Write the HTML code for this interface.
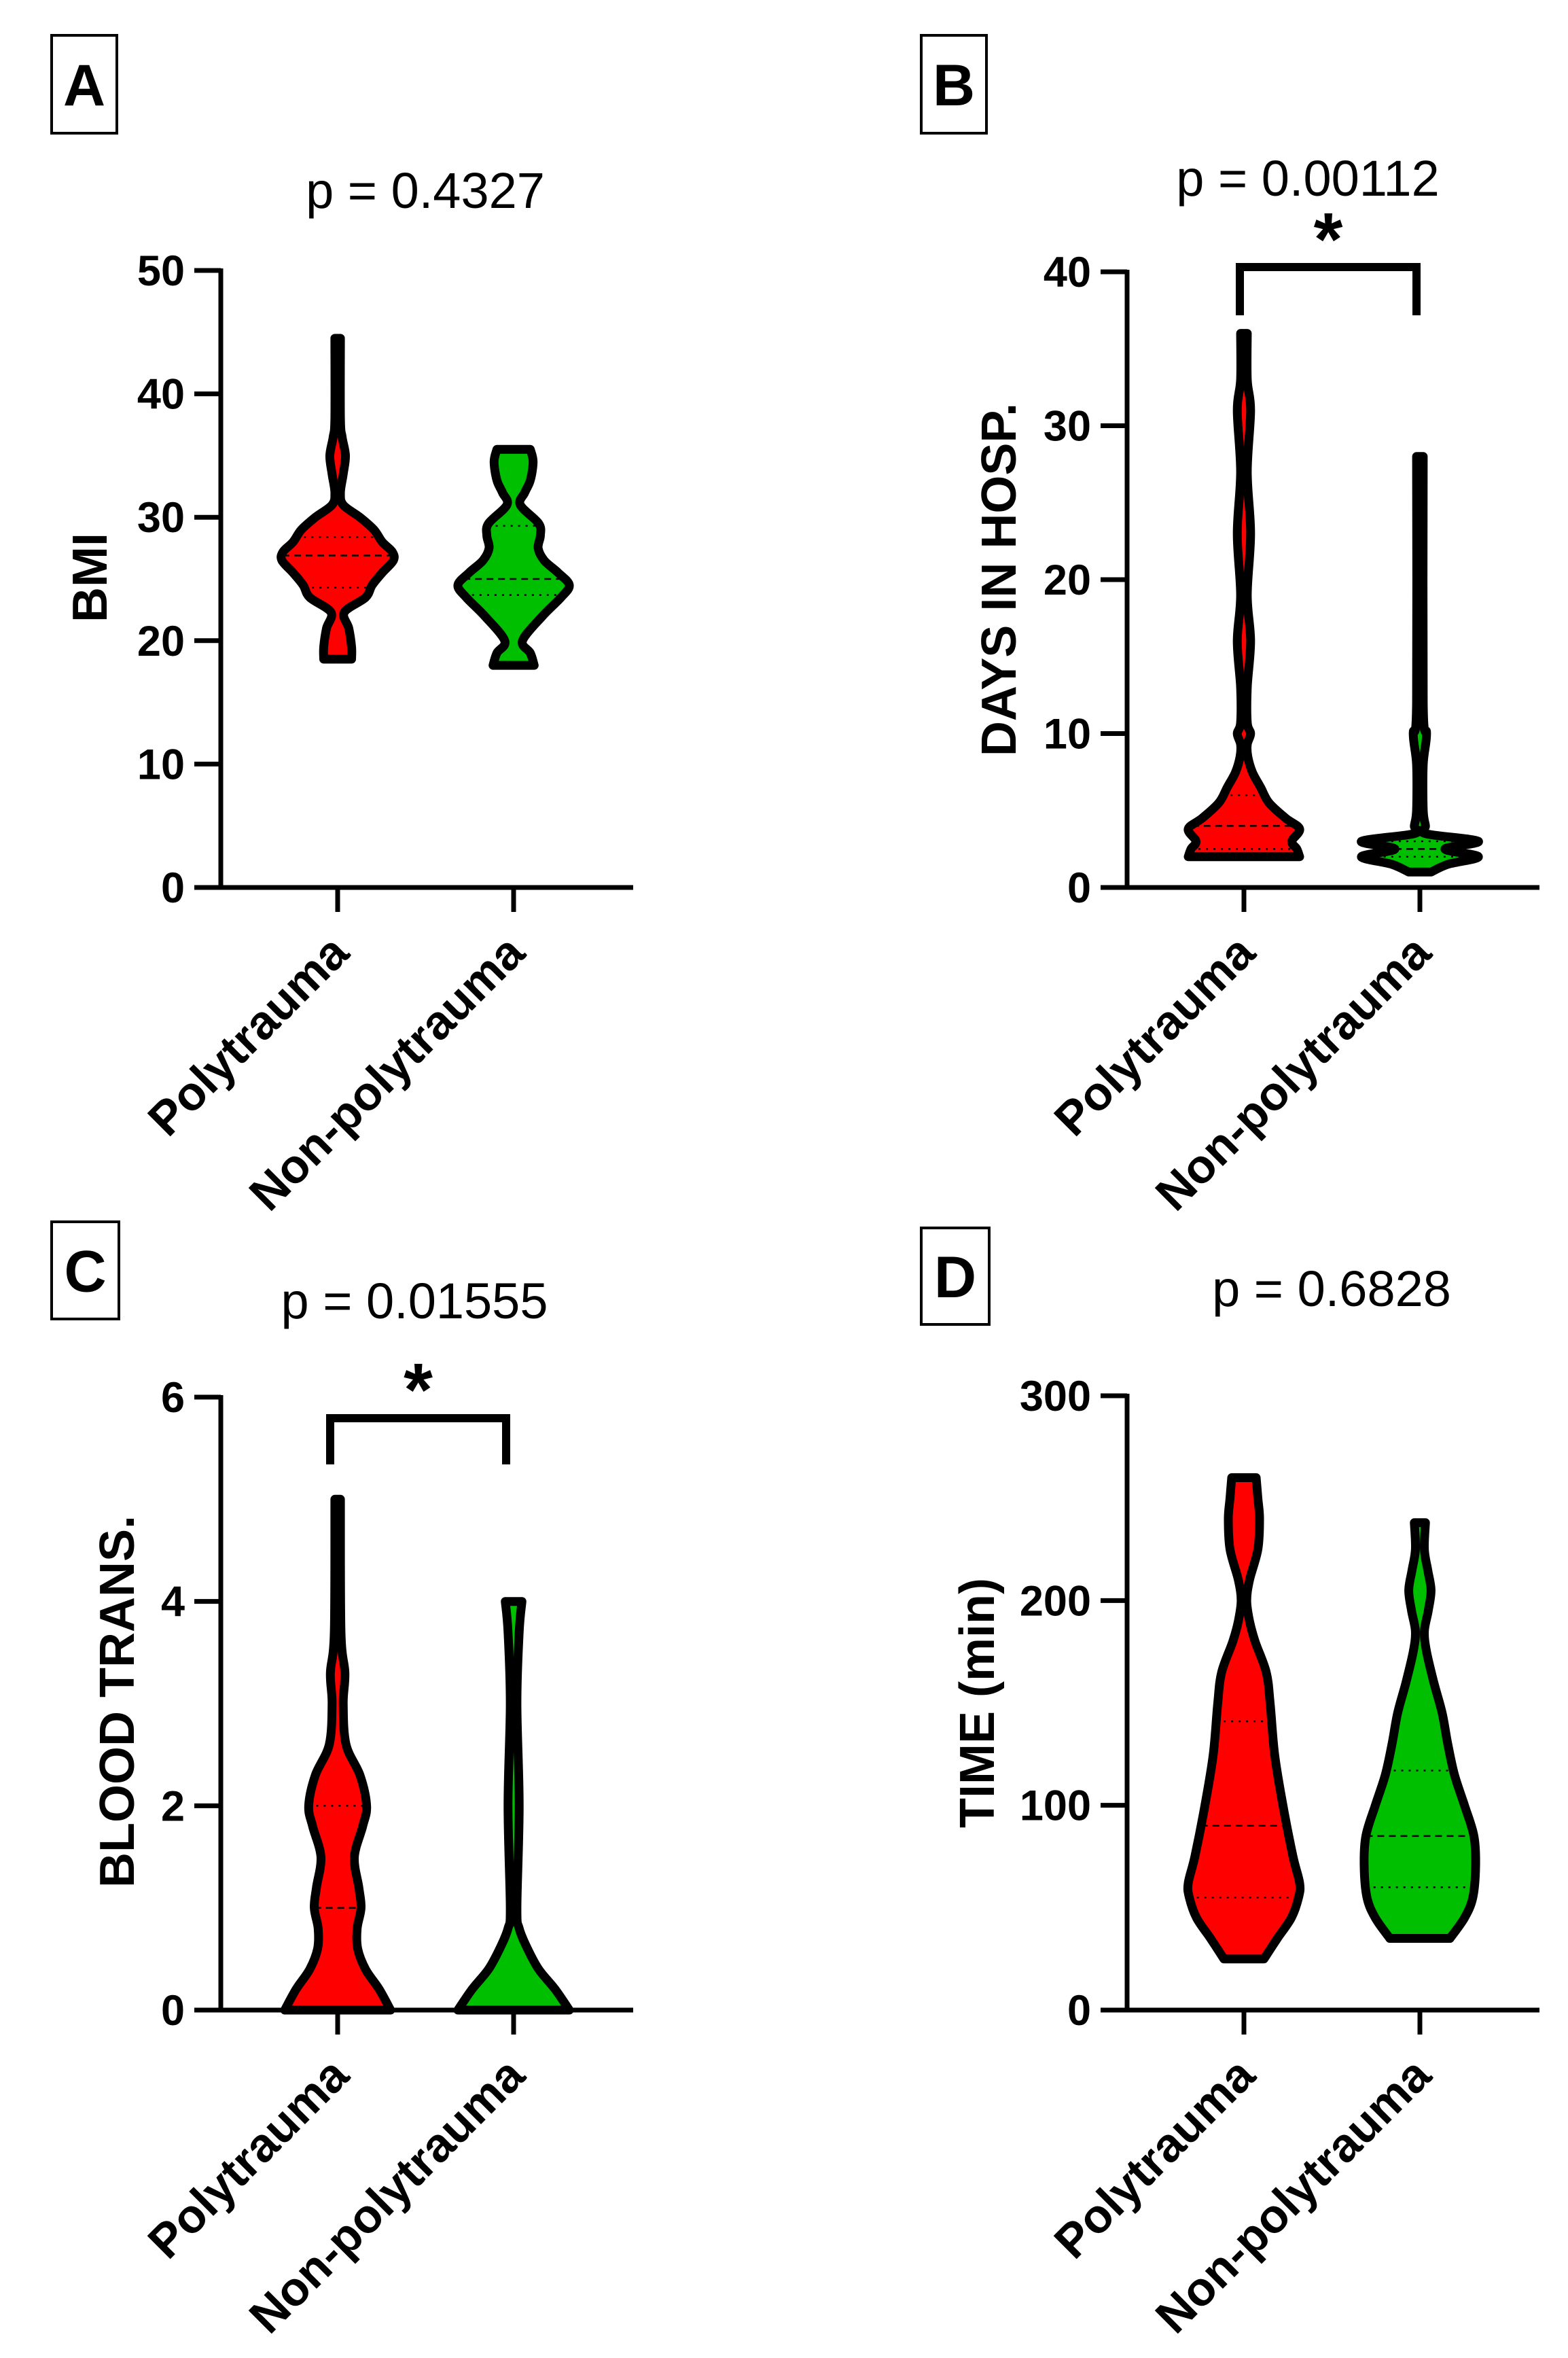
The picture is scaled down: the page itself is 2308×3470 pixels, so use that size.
<!DOCTYPE html>
<html><head><meta charset="utf-8"><style>
html,body{margin:0;padding:0;background:#fff;}
svg{display:block;font-family:"Liberation Sans",Arial,sans-serif;}
</style></head><body>
<svg id="fig" width="2308" height="3470" viewBox="0 0 2308 3470" xmlns="http://www.w3.org/2000/svg"></svg>
<script>
const categories = ["Polytrauma", "Non-polytrauma"];
const pValues = ["p = 0.4327", "p = 0.00112", "p = 0.01555", "p = 0.6828"];
const yTitles = ["BMI", "DAYS IN HOSP.", "BLOOD TRANS.", "TIME (min)"];
const ticksA = [0, 10, 20, 30, 40, 50];
const ticksB = [0, 10, 20, 30, 40];
const ticksC = [0, 2, 4, 6];
const ticksD = [0, 100, 200, 300];

const bmiPolyLevels = [18.5, 19.5, 21, 22.3, 23.5, 24.5, 25.5, 26.5, 27.2, 28, 29, 30, 31, 32, 33.5, 35, 36.5, 38, 44.5];
const bmiPolyWidths = [0.25, 0.25, 0.2, 0.12, 0.5, 0.62, 0.8, 1.0, 0.98, 0.8, 0.65, 0.4, 0.1, 0.05, 0.1, 0.14, 0.08, 0.05, 0.05];
const bmiPolyQuart = [24.3, 26.9, 28.4];
const bmiNonLevels = [18, 19, 20, 22, 23.5, 24.5, 25.5, 26.5, 27.5, 28.5, 29.5, 31, 32, 33, 34.5, 35.5];
const bmiNonWidths = [0.37, 0.3, 0.16, 0.52, 0.85, 1.0, 0.8, 0.55, 0.44, 0.48, 0.45, 0.12, 0.2, 0.3, 0.35, 0.3];
const bmiNonQuart = [23.7, 25, 29.3];

const daysPolyLevels = [2, 2.5, 3, 3.8, 4.5, 5.5, 6.5, 7.5, 8.5, 9.3, 10, 10.7, 13, 16, 19, 23, 27, 31, 33, 36];
const daysPolyWidths = [1.0, 0.95, 0.86, 1.0, 0.75, 0.45, 0.3, 0.15, 0.07, 0.06, 0.12, 0.06, 0.06, 0.12, 0.06, 0.12, 0.06, 0.12, 0.06, 0.06];
const daysPolyQuart = [2.5, 4, 6];
const daysNonLevels = [1, 1.5, 2, 2.5, 3, 3.5, 4, 5, 8, 10, 12, 28];
const daysNonWidths = [0.2, 0.5, 1.05, 0.45, 1.05, 0.1, 0.1, 0.06, 0.06, 0.12, 0.06, 0.06];
const daysNonQuart = [2, 2.5, 3];

const bloodPolyLevels = [0, 0.2, 0.4, 0.6, 0.8, 1.0, 1.2, 1.5, 1.8, 2.0, 2.3, 2.6, 3.0, 3.3, 3.7, 5];
const bloodPolyWidths = [0.95, 0.75, 0.5, 0.36, 0.35, 0.42, 0.38, 0.3, 0.45, 0.52, 0.4, 0.15, 0.1, 0.13, 0.06, 0.05];
const bloodPolyQuart = [0, 1, 2];
const bloodNonLevels = [0, 0.2, 0.4, 0.6, 0.8, 1.0, 2, 3, 3.7, 4];
const bloodNonWidths = [1.0, 0.75, 0.45, 0.25, 0.1, 0.06, 0.1, 0.06, 0.1, 0.15];
const bloodNonQuart = [0, 0, 0];

const timePolyLevels = [25, 35, 45, 55, 62, 75, 100, 125, 150, 165, 180, 190, 200, 210, 225, 240, 250, 260];
const timePolyWidths = [0.36, 0.6, 0.85, 0.98, 1.0, 0.88, 0.7, 0.55, 0.47, 0.4, 0.2, 0.1, 0.05, 0.1, 0.25, 0.28, 0.25, 0.22];
const timePolyQuart = [55, 90, 141];
const timeNonLevels = [35, 45, 55, 70, 85, 100, 115, 130, 145, 160, 175, 185, 195, 205, 215, 225, 238];
const timeNonWidths = [0.54, 0.8, 0.95, 1.0, 0.97, 0.8, 0.62, 0.5, 0.4, 0.25, 0.12, 0.08, 0.15, 0.2, 0.14, 0.08, 0.1];
const timeNonQuart = [60, 85, 117];

const NS = "http://www.w3.org/2000/svg";
const svg = document.getElementById("fig");
function mk(tag, attrs, parent) {
  const e = document.createElementNS(NS, tag);
  for (const k in attrs) e.setAttribute(k, attrs[k]);
  (parent || svg).appendChild(e);
  return e;
}
function interp(levels, widths, v) {
  if (v <= levels[0]) return widths[0];
  for (let i = 1; i < levels.length; i++) {
    if (v <= levels[i]) {
      const t = (v - levels[i-1]) / (levels[i] - levels[i-1]);
      return widths[i-1] + t * (widths[i] - widths[i-1]);
    }
  }
  return widths[widths.length-1];
}
function smooth(pts) {
  let d = "";
  for (let i = 0; i < pts.length - 1; i++) {
    const p0 = pts[Math.max(i-1,0)], p1 = pts[i], p2 = pts[i+1], p3 = pts[Math.min(i+2, pts.length-1)];
    const c1 = [p1[0] + (p2[0]-p0[0])/6, p1[1] + (p2[1]-p0[1])/6];
    const c2 = [p2[0] - (p3[0]-p1[0])/6, p2[1] - (p3[1]-p1[1])/6];
    d += " C" + c1[0].toFixed(1) + "," + c1[1].toFixed(1) + " " + c2[0].toFixed(1) + "," + c2[1].toFixed(1) + " " + p2[0].toFixed(1) + "," + p2[1].toFixed(1);
  }
  return d;
}

function panel(cfg) {
  const g = mk("g", {});
  
  
  const yMax = cfg.ticks[cfg.ticks.length-1];
  const yScale = v => cfg.y0 - (v / yMax) * (cfg.y0 - cfg.yTop);
  const catX = [cfg.ax + 172, cfg.ax + 431];
  const maxHalf = 82;

  const box = mk("rect", {x: cfg.box[0], y: cfg.box[1], width: cfg.box[2], height: cfg.box[3], fill: "none", stroke: "#000", "stroke-width": 4}, g);
  
  
  const lt = mk("text", {x: cfg.box[0] + cfg.box[2]/2, y: cfg.box[1] + cfg.box[3]/2 + 31, "text-anchor": "middle", "font-size": 86, "font-weight": "bold"}, g);
  lt.textContent = cfg.letter;
  
  

  const pt = mk("text", {x: cfg.pPos[0], y: cfg.pPos[1], "text-anchor": "middle", "font-size": 74}, g);
  pt.textContent = cfg.p;
  
  

  const yt = mk("text", {x: 0, y: 0, "text-anchor": "middle", "font-size": 72, "font-weight": "bold", transform: "translate(" + (cfg.titleX + 26) + "," + cfg.titleY + ") rotate(-90)"}, g);
  yt.textContent = cfg.title;
  
  

  const series = [
    {levels: cfg.polyL, widths: cfg.polyW, quart: cfg.polyQ, fill: "#ff0000", name: "violin-polytrauma"},
    {levels: cfg.nonL, widths: cfg.nonW, quart: cfg.nonQ, fill: "#00bf00", name: "violin-non-polytrauma"}
  ];
  series.forEach((s, si) => {
    const cx = catX[si];
    const right = s.levels.map((v, i) => [cx + s.widths[i]*maxHalf, yScale(v)]);
    const left = s.levels.map((v, i) => [cx - s.widths[i]*maxHalf, yScale(v)]).reverse();
    let d = "M" + left[left.length-1][0].toFixed(1) + "," + left[left.length-1][1].toFixed(1);
    d += " L" + right[0][0].toFixed(1) + "," + right[0][1].toFixed(1);
    d += smooth(right);
    d += " L" + left[0][0].toFixed(1) + "," + left[0][1].toFixed(1);
    d += smooth(left) + " Z";
    const fillP = mk("path", {d: d, fill: s.fill, stroke: "none"}, g);
    
    
    s.quart.forEach((q, qi) => {
      if (q <= s.levels[0]) return;
      const w = interp(s.levels, s.widths, q) * maxHalf;
      const ln = mk("line", {x1: cx - w, x2: cx + w, y1: yScale(q), y2: yScale(q), stroke: "#000", "stroke-width": 2.5, "stroke-dasharray": qi === 1 ? "10 7" : "3 8"}, g);
      
      
    });
    const outP = mk("path", {d: d, fill: "none", stroke: "#000", "stroke-width": 13, "stroke-linejoin": "round"}, g);
    
    
  });

  const yAxis = mk("line", {x1: cfg.ax, x2: cfg.ax, y1: cfg.yTop - 3, y2: cfg.y0 + 3, stroke: "#000", "stroke-width": 7}, g);
  
  
  const xAxis = mk("line", {x1: cfg.ax - 39, x2: cfg.ax + 607, y1: cfg.y0, y2: cfg.y0, stroke: "#000", "stroke-width": 7}, g);
  
  
  cfg.ticks.forEach(t => {
    const y = yScale(t);
    const tk = mk("line", {x1: cfg.ax - 39, x2: cfg.ax, y1: y, y2: y, stroke: "#000", "stroke-width": 7}, g);
    
    
    const tl = mk("text", {x: cfg.ax - 53, y: y + 22, "text-anchor": "end", "font-size": 63, "font-weight": "bold"}, g);
    tl.textContent = String(t);
    
    
  });
  catX.forEach((x, i) => {
    const tk = mk("line", {x1: x, x2: x, y1: cfg.y0, y2: cfg.y0 + 36, stroke: "#000", "stroke-width": 7}, g);
    
    
    const cl = mk("text", {x: 0, y: 0, "text-anchor": "end", "font-size": 70, "font-weight": "bold", transform: "translate(" + (x + 20) + "," + (cfg.y0 + 100) + ") rotate(-45)"}, g);
    cl.textContent = categories[i];
    
    
  });

  if (cfg.bracket) {
    const b = cfg.bracket;
    const br = mk("path", {d: "M" + b[0] + "," + b[3] + " L" + b[0] + "," + b[2] + " L" + b[1] + "," + b[2] + " L" + b[1] + "," + b[3], fill: "none", stroke: "#000", "stroke-width": 12}, g);
    
    
    const st = mk("text", {x: (b[0] + b[1]) / 2, y: b[4], "text-anchor": "middle", "font-size": 110, "font-weight": "bold"}, g);
    st.textContent = "*";
    
    
  }
}

panel({name: "panel-a-bmi", letter: "A", p: pValues[0], title: yTitles[0], ticks: ticksA,
  ax: 325, y0: 1306, yTop: 398, box: [76, 52, 96, 144], pPos: [626, 306], titleX: 131, titleY: 850,
  polyL: bmiPolyLevels, polyW: bmiPolyWidths, polyQ: bmiPolyQuart, nonL: bmiNonLevels, nonW: bmiNonWidths, nonQ: bmiNonQuart});
panel({name: "panel-b-days", letter: "B", p: pValues[1], title: yTitles[1], ticks: ticksB,
  ax: 1659, y0: 1306, yTop: 400, box: [1356, 52, 96, 144], pPos: [1925, 288], titleX: 1469, titleY: 853,
  polyL: daysPolyLevels, polyW: daysPolyWidths, polyQ: daysPolyQuart, nonL: daysNonLevels, nonW: daysNonWidths, nonQ: daysNonQuart,
  bracket: [1825, 2085, 393, 464, 390]});
panel({name: "panel-c-blood", letter: "C", p: pValues[2], title: yTitles[2], ticks: ticksC,
  ax: 325, y0: 2958, yTop: 2056, box: [76, 1798, 99, 143], pPos: [610, 1940], titleX: 171, titleY: 2504,
  polyL: bloodPolyLevels, polyW: bloodPolyWidths, polyQ: bloodPolyQuart, nonL: bloodNonLevels, nonW: bloodNonWidths, nonQ: bloodNonQuart,
  bracket: [486, 745, 2087, 2155, 2083]});
panel({name: "panel-d-time", letter: "D", p: pValues[3], title: yTitles[3], ticks: ticksD,
  ax: 1659, y0: 2958, yTop: 2054, box: [1356, 1807, 100, 142], pPos: [1960, 1922], titleX: 1437, titleY: 2506,
  polyL: timePolyLevels, polyW: timePolyWidths, polyQ: timePolyQuart, nonL: timeNonLevels, nonW: timeNonWidths, nonQ: timeNonQuart});
</script>
</body></html>
